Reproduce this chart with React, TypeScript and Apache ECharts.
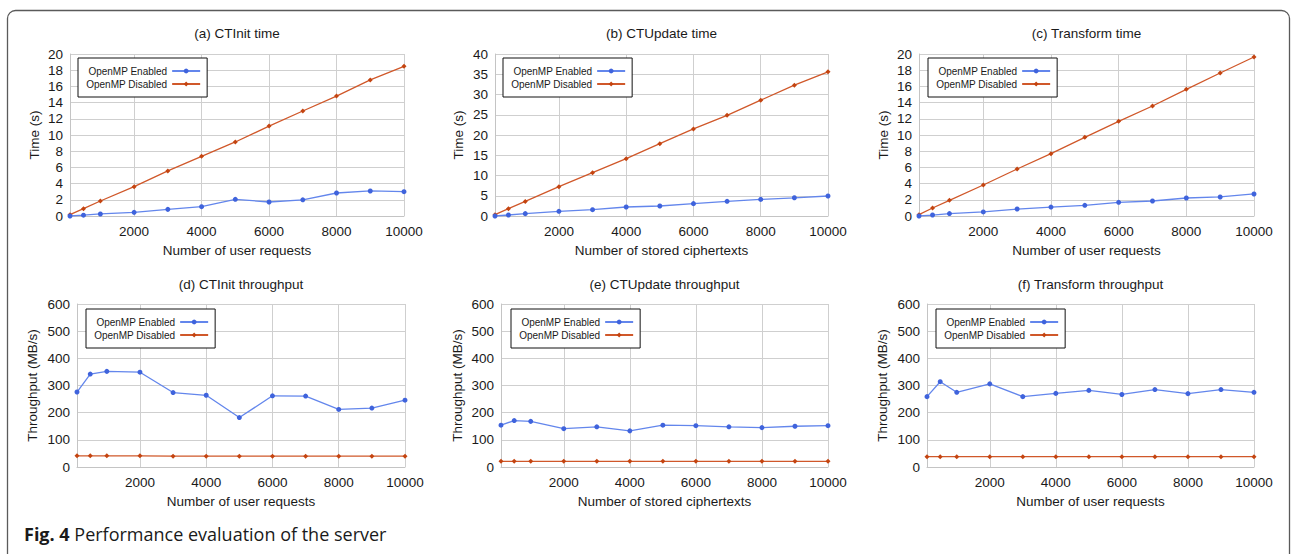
import React, { useEffect, useRef } from "react";
import * as echarts from "echarts";

const xValues = [100, 500, 1000, 2000, 3000, 4000, 5000, 6000, 7000, 8000, 9000, 10000];
const xTickLabels = [2000, 4000, 6000, 8000, 10000];
const seriesNames = ["OpenMP Enabled", "OpenMP Disabled"];

const panelTitles = [
  "(a) CTInit time",
  "(b) CTUpdate time",
  "(c) Transform time",
  "(d) CTInit throughput",
  "(e) CTUpdate throughput",
  "(f) Transform throughput",
];
const xAxisNames = [
  "Number of user requests",
  "Number of stored ciphertexts",
  "Number of user requests",
  "Number of user requests",
  "Number of stored ciphertexts",
  "Number of user requests",
];
const yAxisNames = ["Time (s)", "Time (s)", "Time (s)", "Throughput (MB/s)", "Throughput (MB/s)", "Throughput (MB/s)"];
const yMax = [20, 40, 20, 600, 600, 600];
const yInterval = [2, 5, 2, 100, 100, 100];

const ctinitTimeEnabled = [0.0, 0.1, 0.25, 0.45, 0.82, 1.15, 2.06, 1.73, 2.0, 2.84, 3.09, 3.0];
const ctinitTimeDisabled = [0.16, 0.9, 1.85, 3.62, 5.56, 7.37, 9.14, 11.1, 12.96, 14.8, 16.8, 18.48];
const ctupdateTimeEnabled = [0.0, 0.25, 0.58, 1.15, 1.56, 2.22, 2.47, 3.05, 3.62, 4.1, 4.5, 4.94];
const ctupdateTimeDisabled = [0.33, 1.8, 3.6, 7.24, 10.7, 14.15, 17.86, 21.5, 24.86, 28.6, 32.3, 35.6];
const transformTimeEnabled = [0.0, 0.12, 0.3, 0.5, 0.86, 1.1, 1.32, 1.69, 1.85, 2.22, 2.35, 2.72];
const transformTimeDisabled = [0.16, 0.99, 1.93, 3.83, 5.8, 7.7, 9.71, 11.69, 13.58, 15.64, 17.65, 19.63];
const ctinitTputEnabled = [276, 342, 352, 349, 274, 264, 182, 262, 261, 212, 217, 246];
const ctinitTputDisabled = [41, 41, 41, 41, 40, 40, 40, 40, 40, 40, 40, 40];
const ctupdateTputEnabled = [154, 171, 168, 141, 148, 133, 154, 152, 148, 145, 150, 152];
const ctupdateTputDisabled = [21, 21, 21, 21, 21, 21, 21, 21, 21, 21, 21, 21];
const transformTputEnabled = [259, 314, 275, 306, 259, 271, 282, 267, 285, 270, 285, 275];
const transformTputDisabled = [38, 38, 38, 38, 38, 38, 38, 38, 38, 38, 38, 38];

const enabledSets = [ctinitTimeEnabled, ctupdateTimeEnabled, transformTimeEnabled, ctinitTputEnabled, ctupdateTputEnabled, transformTputEnabled];
const disabledSets = [ctinitTimeDisabled, ctupdateTimeDisabled, transformTimeDisabled, ctinitTputDisabled, ctupdateTputDisabled, transformTputDisabled];

// layout (pixels)
const grids = [
  { left: 70, top: 54, width: 334, height: 162 },
  { left: 495, top: 54, width: 333, height: 162 },
  { left: 919, top: 54, width: 335, height: 162 },
  { left: 77, top: 304, width: 328, height: 163 },
  { left: 501, top: 304, width: 327, height: 163 },
  { left: 927, top: 304, width: 327, height: 163 },
];
const titleTops = [26, 26, 26, 277, 277, 277];
const legendPos = [
  { left: 78, top: 58 },
  { left: 503, top: 58 },
  { left: 928, top: 58 },
  { left: 86, top: 309 },
  { left: 511, top: 309 },
  { left: 936, top: 309 },
];
const yNameGaps = [29, 30, 28.5, 38, 37, 38];

const FONT = "Liberation Sans";
const CAPTION_FONT = "Open Sans";
const BLUE_LINE = "#6386ec";
const BLUE_DOT = "#3f63dc";
const ORANGE_LINE = "#d0582a";
const ORANGE_DOT = "#c44410";

export default function App() {
  const ref = useRef<HTMLDivElement>(null);

  useEffect(() => {
    if (!ref.current) return;
    const chart = echarts.init(ref.current, null, { renderer: "svg" });

    const title: any[] = [];
    const grid: any[] = [];
    const xAxis: any[] = [];
    const yAxis: any[] = [];
    const legend: any[] = [];
    const series: any[] = [];

    for (let i = 0; i < 6; i++) {
      const g = grids[i];
      title.push({
        text: panelTitles[i],
        left: g.left + g.width / 2,
        top: titleTops[i],
        textAlign: "center",
        padding: 0,
        textStyle: { fontFamily: FONT, fontSize: 13.5, fontWeight: "normal", color: "#1a1a1a" },
      });
      grid.push({ left: g.left, top: g.top, width: g.width, height: g.height, containLabel: false });
      xAxis.push({
        type: "value",
        gridIndex: i,
        min: 100,
        max: 10000,
        name: xAxisNames[i],
        nameLocation: "middle",
        nameGap: 27,
        nameTextStyle: { fontFamily: FONT, fontSize: 13.5, color: "#1a1a1a" },
        axisLine: { show: true, lineStyle: { color: "#c4c4c4", width: 1 } },
        axisTick: { show: false, customValues: xTickLabels },
        axisLabel: {
          customValues: xTickLabels,
          formatter: (v: number) => String(v),
          fontFamily: FONT,
          fontSize: 13.5,
          color: "#1a1a1a",
          margin: 8,
        },
        splitLine: { show: true, lineStyle: { color: "#cfcfcf", width: 1 } },
      });
      yAxis.push({
        type: "value",
        gridIndex: i,
        min: 0,
        max: yMax[i],
        interval: yInterval[i],
        name: yAxisNames[i],
        nameLocation: "middle",
        nameRotate: 90,
        nameGap: yNameGaps[i],
        nameTextStyle: { fontFamily: FONT, fontSize: 13.5, color: "#1a1a1a" },
        axisLine: { show: true, lineStyle: { color: "#c4c4c4", width: 1 } },
        axisTick: { show: false },
        axisLabel: { fontFamily: FONT, fontSize: 13.5, color: "#1a1a1a", margin: 7 },
        splitLine: { show: true, lineStyle: { color: "#cfcfcf", width: 1 } },
      });
      legend.push({
        orient: "vertical",
        align: "right",
        left: legendPos[i].left,
        top: legendPos[i].top,
        data: seriesNames,
        selectedMode: false,
        backgroundColor: "#ffffff",
        borderColor: "#111111",
        borderWidth: 1,
        padding: [8, 6, 8, 8],
        itemWidth: 28,
        itemHeight: 6,
        itemGap: 3,
        textStyle: { fontFamily: FONT, fontSize: 10, color: "#1a1a1a" },
      });
      series.push({
        type: "line",
        name: seriesNames[0],
        xAxisIndex: i,
        yAxisIndex: i,
        data: xValues.map((x, k) => [x, enabledSets[i][k]]),
        symbol: "circle",
        symbolSize: 5,
        lineStyle: { color: BLUE_LINE, width: 1.3 },
        itemStyle: { color: BLUE_DOT },
        z: 3,
      });
      series.push({
        type: "line",
        name: seriesNames[1],
        xAxisIndex: i,
        yAxisIndex: i,
        data: xValues.map((x, k) => [x, disabledSets[i][k]]),
        symbol: "diamond",
        symbolSize: 5,
        lineStyle: { color: ORANGE_LINE, width: 1.3 },
        itemStyle: { color: ORANGE_DOT },
        z: 2,
      });
    }

    chart.setOption({
      animation: false,
      backgroundColor: "#ffffff",
      title,
      grid,
      xAxis,
      yAxis,
      legend,
      series,
      graphic: [
        {
          type: "rect",
          shape: { x: 7.5, y: 10.5, width: 1282, height: 620, r: 8 },
          style: { fill: "none", stroke: "#5a5a5a", lineWidth: 1.3 },
          silent: true,
          z: -10,
        },
        {
          type: "text",
          left: 24,
          top: 525,
          style: {
            text: "{b|Fig. 4} Performance evaluation of the server",
            fontFamily: CAPTION_FONT,
            fontSize: 18,
            fill: "#1a1a1a",
            rich: {
              b: { fontFamily: CAPTION_FONT, fontSize: 18, fontWeight: "bold", fill: "#1a1a1a" },
            },
          },
        },
      ],
    });

    return () => chart.dispose();
  }, []);

  return (
    <div
      ref={ref}
      style={{ position: "absolute", left: 0, top: 0, width: 1292, height: 554, background: "#fff" }}
    />
  );
}
